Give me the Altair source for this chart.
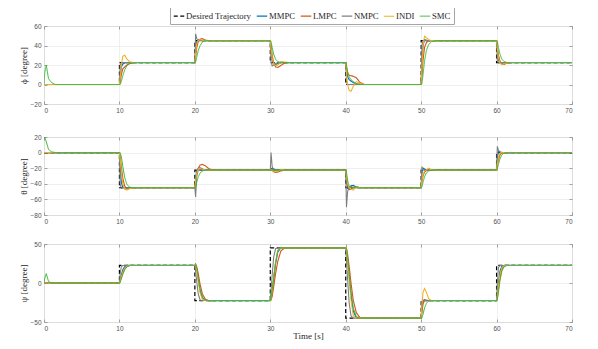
import altair as alt
import pandas as pd

SERIES = ["Desired Trajectory", "MMPC", "LMPC", "NMPC", "INDI", "SMC"]
CTRL = ["MMPC", "LMPC", "NMPC", "INDI", "SMC"]
COLORS = ["#000000", "#0072BD", "#D95319", "#7F7F7F", "#EDB120", "#36B936"]
DASHES = [[4, 2.5], [1, 0], [1, 0], [1, 0], [1, 0], [1, 0]]
WIDTHS = [1.2, 1.0, 1.0, 1.0, 1.0, 1.2]

# reference (desired) step trajectories
T_REF = [0, 10, 10, 20, 20, 30, 30, 40, 40, 50, 50, 60, 60, 70]
PHI_REF = [0, 0, 22.5, 22.5, 45, 45, 22.5, 22.5, 0, 0, 45, 45, 22.5, 22.5]
THETA_REF = [0, 0, -45, -45, -22.5, -22.5, -22.5, -22.5, -45, -45, -22.5, -22.5, 0, 0]
PSI_REF = [0, 0, 22.5, 22.5, -22.5, -22.5, 45, 45, -45, -45, -22.5, -22.5, 22.5, 22.5]

# sample times shared by all controller responses
T = [0, 0.1, 0.3, 0.6, 1.0, 1.5,
     10, 10.1, 10.25, 10.45, 10.7, 11.0, 11.4, 11.9, 12.5,
     20, 20.1, 20.25, 20.45, 20.7, 21.0, 21.4, 21.9, 22.5,
     30, 30.1, 30.25, 30.45, 30.7, 31.0, 31.4, 31.9, 32.5,
     40, 40.1, 40.25, 40.45, 40.7, 41.0, 41.4, 41.9, 42.5,
     50, 50.1, 50.25, 50.45, 50.7, 51.0, 51.4, 51.9, 52.5,
     60, 60.1, 60.25, 60.45, 60.7, 61.0, 61.4, 61.9, 62.5,
     70]

PHI = {
    "MMPC": [[0, 0, 0, 0, 0, 0],
             [0, 8, 18, 21, 22, 22.5, 22.5, 22.5, 22.5],
             [22.5, 35, 44, 46, 45.5, 45, 45, 45, 45],
             [45, 35, 25, 21, 20.5, 21.5, 22.5, 22.5, 22.5],
             [22.5, 15, 8, 5, 3.5, 2, 0.5, 0, 0],
             [0, 20, 40, 46, 45.5, 45, 45, 45, 45],
             [45, 35, 25, 22, 22, 22.5, 22.5, 22.5, 22.5],
             [22.5]],
    "LMPC": [[0, 0, 0, 0, 0, 0],
             [0, 3, 10, 16, 18, 20, 21.5, 22.5, 22.5],
             [22.5, 28, 38, 44, 46.5, 47, 45.5, 45, 45],
             [45, 40, 30, 22, 18, 17.5, 19.5, 22, 22.5],
             [22.5, 18, 12, 9.5, 9, 8.5, 7, 2, 0],
             [0, 8, 25, 38, 43, 45, 45, 45, 45],
             [45, 40, 30, 24, 21, 20.5, 22, 22.5, 22.5],
             [22.5]],
    "NMPC": [[0, 0, 0, 0, 0, 0],
             [0, 20, 22, 22.5, 22.5, 22.5, 22.5, 22.5, 22.5],
             [22.5, 52, 47, 45, 45, 45, 45, 45, 45],
             [45, 24, 19, 20, 21.5, 22.5, 22.5, 22.5, 22.5],
             [22.5, 3, 0, 0, 0, 0, 0, 0, 0],
             [0, 40, 45, 45, 45, 45, 45, 45, 45],
             [45, 24, 22, 22.5, 22.5, 22.5, 22.5, 22.5, 22.5],
             [22.5]],
    "INDI": [[0, 0, 0, 0, 0, 0],
             [0, 6, 20, 29, 30, 26, 23, 22.5, 22.5],
             [22.5, 32, 42, 45.5, 46, 45.5, 45, 45, 45],
             [45, 38, 27, 21, 19.5, 20, 23.5, 23, 22.5],
             [22.5, 12, 0, -6, -7, -2, 3, 1, 0],
             [0, 15, 40, 49.5, 48, 46, 45, 45, 45],
             [45, 38, 27, 22, 20.5, 21, 22.5, 22.5, 22.5],
             [22.5]],
    "SMC": [[0, 12, 20, 6, 2, 0],
            [0, 0, 3, 9, 15, 19.5, 22, 22.5, 22.5],
            [22.5, 23, 28, 35, 40, 43.5, 45, 45, 45],
            [45, 44, 38, 31, 26, 23.5, 22.5, 22.5, 22.5],
            [22.5, 20, 13, 8, 5, 3, 1, 0, 0],
            [0, 1, 10, 24, 35, 41, 44, 45, 45],
            [45, 44, 38, 31, 26, 23.5, 22.5, 22.5, 22.5],
            [22.5]],
}

THETA = {
    "MMPC": [[0, 0, 0, 0, 0, 0],
             [0, -15, -38, -45, -45.5, -45, -45, -45, -45],
             [-45, -33, -24, -20, -19.5, -21, -22.5, -22.5, -22.5],
             [-22.5, -21, -20, -21, -22, -22.5, -22.5, -22.5, -22.5],
             [-22.5, -35, -46, -46, -42.5, -42, -44, -45, -45],
             [-45, -26, -20, -21, -22.5, -22.5, -22.5, -22.5, -22.5],
             [-22.5, -8, 2, 1, 0, 0, 0, 0, 0],
             [0]],
    "LMPC": [[0, 0, 0, 0, 0, 0],
             [0, -5, -18, -33, -43, -47, -46, -45, -45],
             [-45, -38, -28, -20, -16, -15, -17, -21, -22.5],
             [-22.5, -22, -23, -24.5, -25.5, -25, -23.5, -22.5, -22.5],
             [-22.5, -30, -42, -47.5, -47, -44.5, -44, -45, -45],
             [-45, -38, -30, -25, -23, -22.5, -22.5, -22.5, -22.5],
             [-22.5, -17, -9, -3, -0.5, 0, 0, 0, 0],
             [0]],
    "NMPC": [[0, 0, 0, 0, 0, 0],
             [0, -40, -46, -45, -45, -45, -45, -45, -45],
             [-45, -57, -30, -22, -22.5, -22.5, -22.5, -22.5, -22.5],
             [-22.5, 0, -18, -22, -22.5, -22.5, -22.5, -22.5, -22.5],
             [-22.5, -70, -50, -44, -43.5, -44.5, -45, -45, -45],
             [-45, -18, -22, -23, -22.5, -22.5, -22.5, -22.5, -22.5],
             [-22.5, 8, 3, 0.5, 0, 0, 0, 0, 0],
             [0]],
    "INDI": [[0, 0, 0, 0, 0, 0],
             [0, -8, -25, -40, -47, -48, -46, -45, -45],
             [-45, -36, -26, -21, -20, -21.5, -22.5, -22.5, -22.5],
             [-22.5, -22, -22.5, -23.5, -24.5, -24, -21.5, -22.5, -22.5],
             [-22.5, -30, -40, -45, -47, -48, -44, -45, -45],
             [-45, -36, -28, -24, -22, -20, -22, -22.5, -22.5],
             [-22.5, -15, -6, -1, 0.5, 0, 0, 0, 0],
             [0]],
    "SMC": [[18, 20, 14, 4, 1, 0],
            [0, 0, -5, -18, -32, -41, -44.5, -45, -45],
            [-45, -44, -38, -31, -26, -23.5, -22.5, -22.5, -22.5],
            [-22.5, -22.5, -22.5, -22.5, -22.5, -22.5, -22.5, -22.5, -22.5],
            [-22.5, -25, -35, -43, -45, -45, -45, -45, -45],
            [-45, -44, -38, -31, -26, -23.5, -22.5, -22.5, -22.5],
            [-22.5, -21, -15, -8, -3, -0.5, 0, 0, 0],
            [0]],
}

PSI = {
    "MMPC": [[0, 0, 0, 0, 0, 0],
             [0, 3, 10, 17, 21, 22.5, 22.5, 22.5, 22.5],
             [22.5, 24, 18, 5, -10, -19, -22, -22.5, -22.5],
             [-22.5, -21, -12, 5, 25, 40, 45, 45, 45],
             [45, 43, 31, 10, -15, -36, -44.5, -45, -45],
             [-45, -32, -23, -21.5, -22.5, -22.5, -22.5, -22.5, -22.5],
             [-22.5, -15, 0, 15, 21.5, 22.5, 22.5, 22.5, 22.5],
             [22.5]],
    "LMPC": [[0, 0, 0, 0, 0, 0],
             [0, 2, 7, 13, 18, 21, 22.5, 22.5, 22.5],
             [22.5, 24, 21, 12, -2, -14, -21, -23, -22.5],
             [-22.5, -22, -17, -5, 12, 28, 41, 45, 45],
             [45, 44, 37, 22, 0, -22, -38, -44.5, -45],
             [-45, -38, -27, -22, -22, -22.5, -22.5, -22.5, -22.5],
             [-22.5, -20, -8, 6, 17, 21.5, 22.5, 22.5, 22.5],
             [22.5]],
    "NMPC": [[0, 0, 0, 0, 0, 0],
             [0, 12, 21, 22.5, 22.5, 22.5, 22.5, 22.5, 22.5],
             [22.5, 15, 2, -14, -22, -22.5, -22.5, -22.5, -22.5],
             [-22.5, -10, 10, 33, 44, 45, 45, 45, 45],
             [45, 30, 5, -25, -42, -45, -45, -45, -45],
             [-45, -25, -22, -22.5, -22.5, -22.5, -22.5, -22.5, -22.5],
             [-22.5, 0, 20, 22.5, 22.5, 22.5, 22.5, 22.5, 22.5],
             [22.5]],
    "INDI": [[0, 0, 0, 0, 0, 0],
             [0, 2, 8, 14, 19, 21.5, 22.5, 22.5, 22.5],
             [22.5, 23, 16, 2, -13, -21, -22.5, -22.5, -22.5],
             [-22.5, -21, -10, 8, 28, 42, 45, 45, 45],
             [45, 42, 28, 5, -22, -42, -45, -45, -45],
             [-45, -30, -12, -7, -12, -20, -23, -22.5, -22.5],
             [-22.5, -18, -4, 11, 19.5, 22, 22.5, 22.5, 22.5],
             [22.5]],
    "SMC": [[0, 6, 12, 2, 0, 0],
            [0, 1, 5, 11, 17, 21, 22.5, 22.5, 22.5],
            [22.5, 23, 19, 7, -8, -18, -22, -22.5, -22.5],
            [-22.5, -20, -8, 6, 25, 42, 45, 45, 45],
            [45, 44, 33, 13, -11, -32, -43, -45, -45],
            [-45, -45, -40, -32, -26, -23, -22.5, -22.5, -22.5],
            [-22.5, -21, -12, 3, 15, 21, 22.5, 22.5, 22.5],
            [22.5]],
}

X_TICKS = [0, 10, 20, 30, 40, 50, 60, 70]

SERIF = "Liberation Serif"
SANS = "Liberation Sans"
TICK = dict(ticks=True, tickSize=3, tickWidth=0.8, tickColor="#8c8c8c", offset=-3)


def build_df(ref, ctrl):
    rows = []
    for i, (t, v) in enumerate(zip(T_REF, ref)):
        rows.append({"t": t, "v": v, "s": "Desired Trajectory", "i": i})
    for name in CTRL:
        vals = [x for seg in ctrl[name] for x in seg]
        for i, (t, v) in enumerate(zip(T, vals)):
            rows.append({"t": t, "v": v, "s": name, "i": i})
    return pd.DataFrame(rows)


def panel(ref, ctrl, ydom, yticks, ytitle, legend, xtitle):
    df = build_df(ref, ctrl)
    xs = alt.Scale(domain=[0, 70], nice=False)
    ys = alt.Scale(domain=ydom, nice=False)
    leg = None
    if legend:
        leg = alt.Legend(title=None, orient="none", legendX=126, legendY=-19,
                         direction="horizontal", columns=6)
    lines = alt.Chart(df).mark_line(clip=True).encode(
        x=alt.X("t:Q", scale=xs,
                axis=alt.Axis(values=X_TICKS, title=xtitle if xtitle else None,
                              labelPadding=3, **TICK)),
        y=alt.Y("v:Q", scale=ys,
                axis=alt.Axis(values=yticks, title=ytitle, labelPadding=3, **TICK)),
        color=alt.Color("s:N", scale=alt.Scale(domain=SERIES, range=COLORS), legend=leg),
        strokeDash=alt.StrokeDash("s:N", scale=alt.Scale(domain=SERIES, range=DASHES), legend=leg),
        strokeWidth=alt.StrokeWidth("s:N", scale=alt.Scale(domain=SERIES, range=WIDTHS), legend=None),
        order=alt.Order("i:Q"),
    )
    frame_ticks = alt.Chart(df.iloc[:1]).mark_point(opacity=0).encode(
        x=alt.X("t:Q", scale=xs,
                axis=alt.Axis(orient="top", values=X_TICKS, labels=False, title=None,
                              grid=False, **TICK)),
        y=alt.Y("v:Q", scale=ys,
                axis=alt.Axis(orient="right", values=yticks, labels=False, title=None,
                              grid=False, **TICK)),
    )
    return alt.layer(lines, frame_ticks).resolve_axis(
        x="independent", y="independent").properties(width=528, height=78)


p1 = panel(PHI_REF, PHI, [-20, 60], [-20, 0, 20, 40, 60], "ϕ [degree]", True, None)
p2 = panel(THETA_REF, THETA, [-80, 20], [-80, -60, -40, -20, 0, 20], "θ [degree]", False, None)
p3 = panel(PSI_REF, PSI, [-50, 50], [-50, 0, 50], "ψ [degree]", False, "Time [s]")

lower = alt.vconcat(p2, p3, spacing=15).resolve_scale(y="independent")
chart = alt.vconcat(p1, lower, spacing=19).resolve_scale(y="independent").properties(
    padding={"left": 11, "top": -2, "right": 5, "bottom": 5}
).configure_view(
    stroke="#a6a6a6", strokeWidth=1
).configure_axis(
    domain=False, grid=True, gridColor="#ebebeb", gridWidth=0.8,
    labelFont=SANS, labelFontSize=6.5, labelColor="#505050",
    titleFont=SERIF, titleFontSize=9, titleFontWeight="normal", titleColor="#262626",
).configure_axisY(titlePadding=1).configure_axisX(titlePadding=0).configure_legend(
    symbolType="stroke", symbolSize=110, symbolStrokeWidth=1.2,
    labelFont=SERIF, labelFontSize=8.7, labelColor="#262626", labelOffset=1,
    strokeColor="#a6a6a6", fillColor="white", padding=3, columnPadding=2, rowPadding=0,
)

chart.save("out.html", embed_options={"renderer": "svg", "actions": False})
